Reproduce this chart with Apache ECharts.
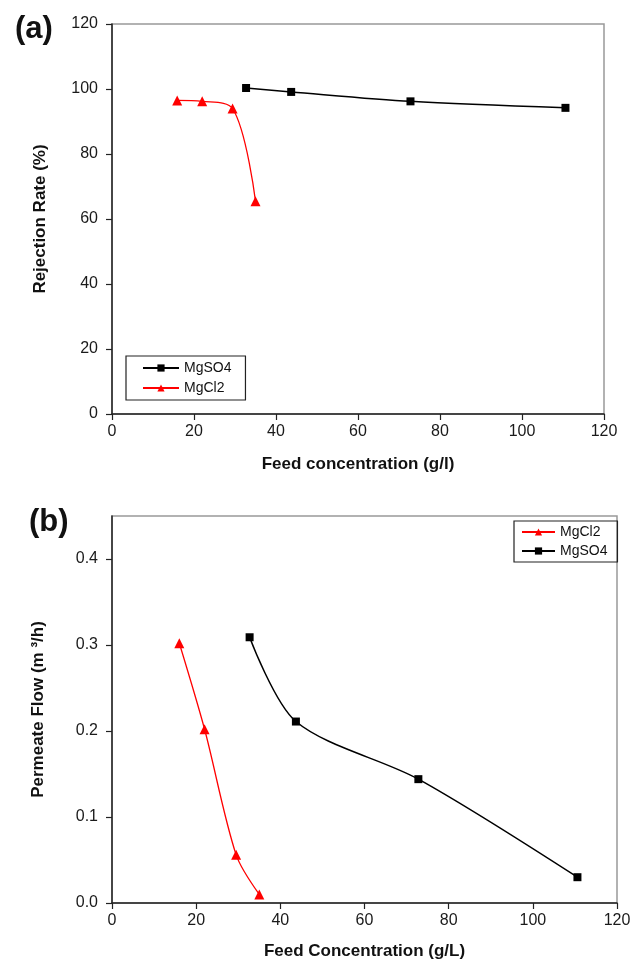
<!DOCTYPE html>
<html><head><meta charset="utf-8">
<script src="https://cdn.jsdelivr.net/npm/echarts@6/dist/echarts.min.js"></script>
<style>html,body{margin:0;padding:0;background:#fff}#c{width:638px;height:964px}</style>
</head><body><div id="c"></div>
<script>
// Panel (a): Rejection rate vs feed concentration
const rejMgSO4_x = [32.7, 43.7, 72.8, 110.6];
const rejMgSO4_y = [100.3, 99.1, 96.2, 94.2];
const rejMgCl2_x = [15.9, 22.0, 29.4, 35.0];
const rejMgCl2_y = [96.5, 96.2, 94.0, 65.5];
// Panel (b): Permeate flow vs feed concentration
const flowMgCl2_x = [16.0, 22.0, 29.5, 35.0];
const flowMgCl2_y = [0.302, 0.202, 0.056, 0.010];
const flowMgSO4_x = [32.7, 43.7, 72.8, 110.6];
const flowMgSO4_y = [0.309, 0.211, 0.144, 0.030];
const xTicks = [0, 20, 40, 60, 80, 100, 120];
const yTicksA = [0, 20, 40, 60, 80, 100, 120];
const yTicksB = [0, 0.1, 0.2, 0.3, 0.4];

const zip = (a, b) => a.map((v, i) => [v, b[i]]);
const FONT = '"Liberation Sans", Arial, sans-serif';
const xLbl = {color: '#1a1a1a', fontSize: 16, fontFamily: FONT, margin: 10};
const yLbl = {color: '#1a1a1a', fontSize: 16, fontFamily: FONT, margin: 14};
const axLine = {show: true, lineStyle: {color: '#222', width: 1.5}};
const axTick = {show: true, inside: false, length: 6, lineStyle: {color: '#222', width: 1.2}};
const nameStyle = {color: '#111', fontSize: 17, fontWeight: 'bold', fontFamily: FONT};

const chart = echarts.init(document.getElementById('c'), null, {renderer: 'canvas'});
chart.setOption({
  animation: false,
  backgroundColor: '#fff',
  title: [
    {text: '(a)', left: 10, top: 9, textStyle: {fontSize: 31, fontWeight: 'bold', color: '#111', fontFamily: FONT}},
    {text: '(b)', left: 24, top: 502, textStyle: {fontSize: 31, fontWeight: 'bold', color: '#111', fontFamily: FONT}}
  ],
  grid: [
    {left: 112, top: 24, right: 34, bottom: 550, show: true, borderColor: '#999', borderWidth: 1.5, containLabel: false},
    {left: 112, top: 516, right: 21, bottom: 61, show: true, borderColor: '#999', borderWidth: 1.5, containLabel: false}
  ],
  legend: [
    {data: ['MgSO4', 'MgCl2'], orient: 'vertical', left: 126, top: 356, itemWidth: 36, itemHeight: 9, itemGap: 6,
     padding: [5, 14, 5, 16], borderColor: '#222', borderWidth: 1.2, textStyle: {fontSize: 14, color: '#111', fontFamily: FONT}},
    {data: ['MgCl2', 'MgSO4'], orient: 'vertical', left: 514, top: 521, itemWidth: 33, itemHeight: 9, itemGap: 5,
     padding: [4, 10, 4, 7], borderColor: '#222', borderWidth: 1.2, textStyle: {fontSize: 14, color: '#111', fontFamily: FONT}}
  ],
  xAxis: [
    {gridIndex: 0, type: 'value', min: 0, max: 120, interval: 20, splitLine: {show: false},
     axisLine: axLine, axisTick: axTick, axisLabel: xLbl,
     name: 'Feed concentration (g/l)', nameLocation: 'middle', nameGap: 42, nameTextStyle: nameStyle},
    {gridIndex: 1, type: 'value', min: 0, max: 120, interval: 20, splitLine: {show: false},
     axisLine: axLine, axisTick: axTick, axisLabel: xLbl,
     name: 'Feed Concentration (g/L)', nameLocation: 'middle', nameGap: 40, nameTextStyle: nameStyle}
  ],
  yAxis: [
    {gridIndex: 0, type: 'value', min: 0, max: 120, interval: 20, splitLine: {show: false},
     axisLine: axLine, axisTick: axTick, axisLabel: yLbl,
     name: 'Rejection Rate (%)', nameLocation: 'middle', nameGap: 63, nameTextStyle: nameStyle},
    {gridIndex: 1, type: 'value', min: 0, max: 0.45, splitLine: {show: false},
     axisLine: axLine,
     axisTick: Object.assign({}, axTick, {customValues: yTicksB}),
     axisLabel: Object.assign({}, yLbl, {customValues: yTicksB, formatter: v => v.toFixed(1)}),
     name: 'Permeate Flow (m ³/h)', nameLocation: 'middle', nameGap: 65, nameTextStyle: nameStyle}
  ],
  series: [
    {name: 'MgSO4', type: 'line', xAxisIndex: 0, yAxisIndex: 0, data: zip(rejMgSO4_x, rejMgSO4_y),
     smooth: 0.3, symbol: 'rect', symbolSize: 8, itemStyle: {color: '#000'}, lineStyle: {color: '#000', width: 1.5}},
    {name: 'MgCl2', type: 'line', xAxisIndex: 0, yAxisIndex: 0, data: zip(rejMgCl2_x, rejMgCl2_y),
     smooth: 0.35, symbol: 'triangle', symbolSize: 10, itemStyle: {color: '#ff0000'}, lineStyle: {color: '#ff0000', width: 1.3}},
    {name: 'MgCl2', type: 'line', xAxisIndex: 1, yAxisIndex: 1, data: zip(flowMgCl2_x, flowMgCl2_y),
     smooth: 0.3, symbol: 'triangle', symbolSize: 10, itemStyle: {color: '#ff0000'}, lineStyle: {color: '#ff0000', width: 1.3}},
    {name: 'MgSO4', type: 'line', xAxisIndex: 1, yAxisIndex: 1, data: zip(flowMgSO4_x, flowMgSO4_y),
     smooth: 0.3, symbol: 'rect', symbolSize: 8, itemStyle: {color: '#000'}, lineStyle: {color: '#000', width: 1.5}}
  ]
});
</script></body></html>
